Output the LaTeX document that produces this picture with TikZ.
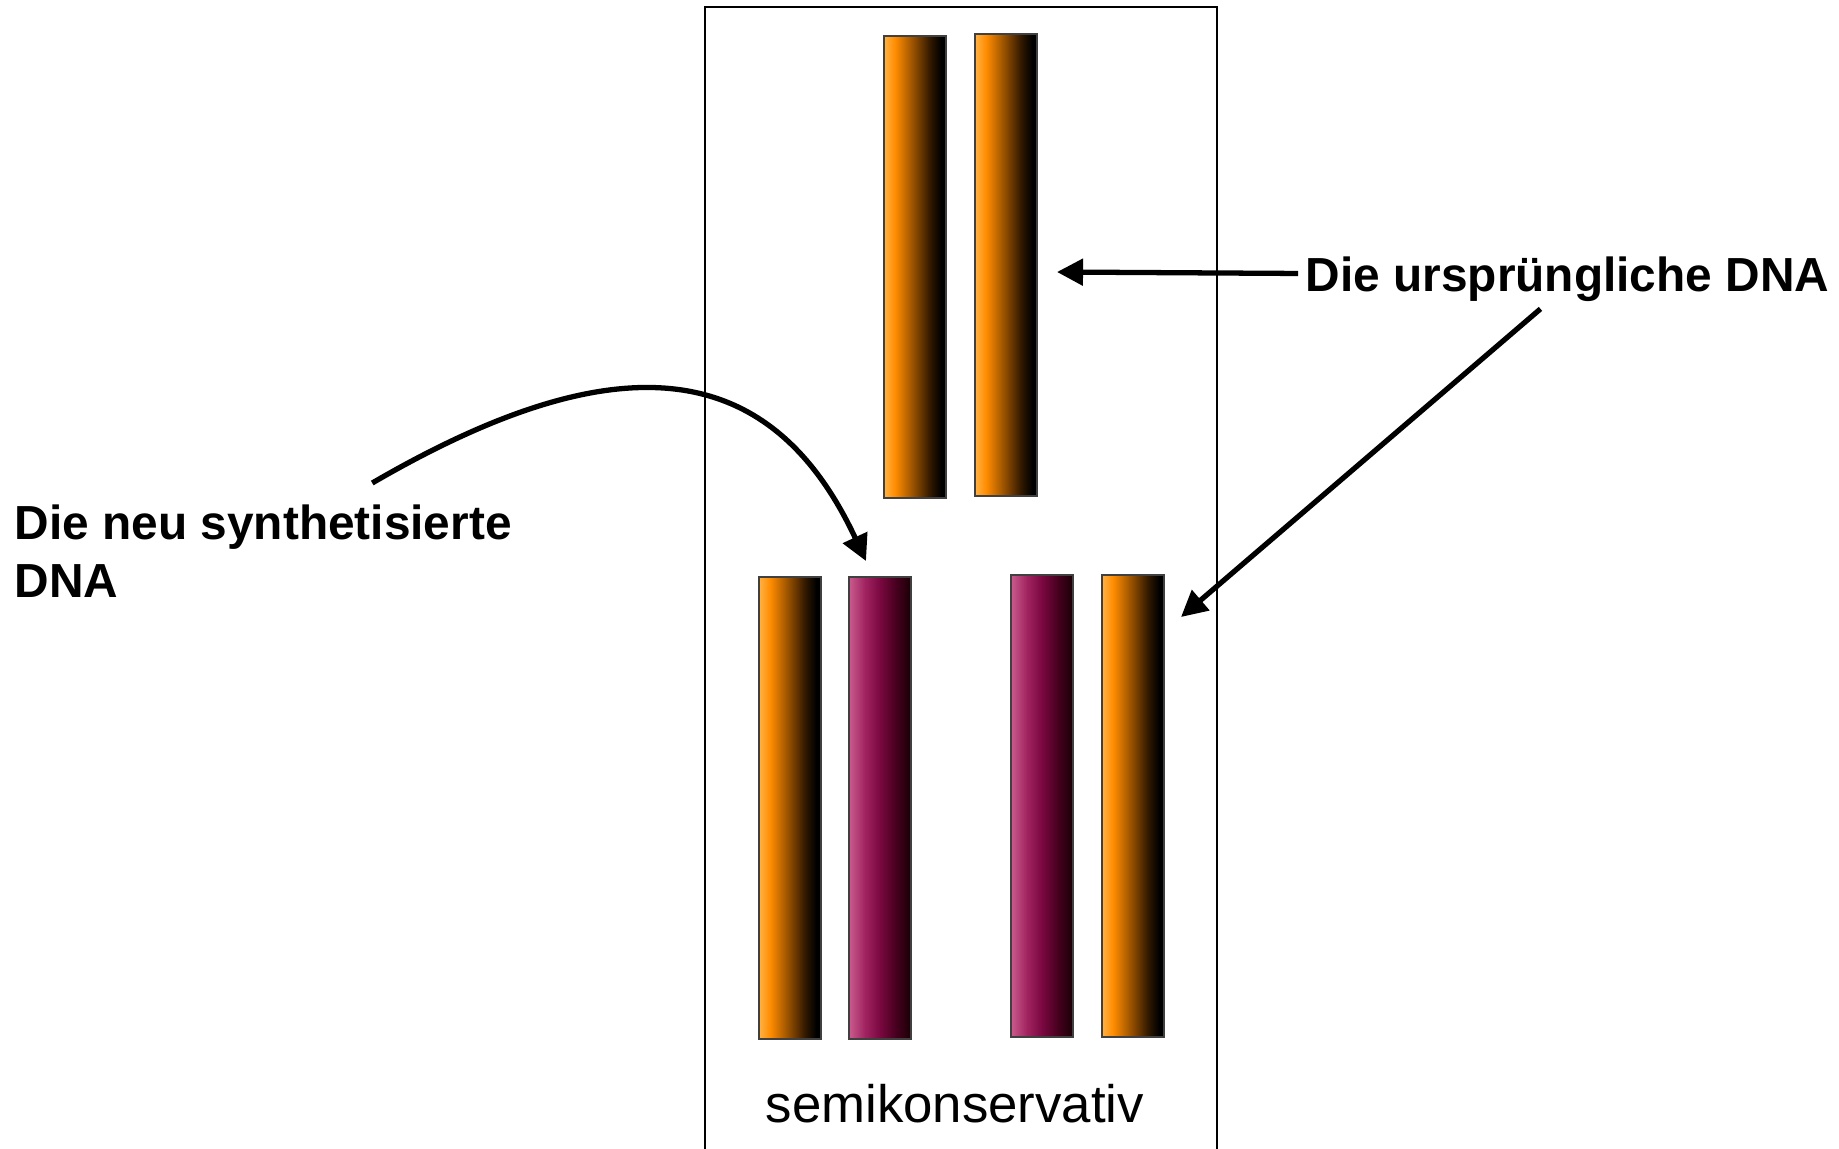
\documentclass[tikz,border=0pt]{standalone}
\usepackage{fontspec}
\setmainfont{Liberation Sans}
\usetikzlibrary{arrows.meta,positioning}

\definecolor{orLight}{RGB}{255,178,70}
\definecolor{orMid}{RGB}{255,140,0}
\definecolor{orDark}{RGB}{140,74,0}
\definecolor{orDeep}{RGB}{50,25,0}
\definecolor{mgLight}{RGB}{202,92,142}
\definecolor{mgMid}{RGB}{160,35,95}
\definecolor{mgDark}{RGB}{122,8,64}
\definecolor{mgDeep}{RGB}{70,0,30}
\definecolor{mgEnd}{RGB}{25,0,5}

\pgfdeclarehorizontalshading{orangebar}{100bp}{color(0bp)=(orLight); color(25bp)=(orLight); color(34bp)=(orMid); color(50bp)=(orDark); color(62bp)=(orDeep); color(71bp)=(black); color(100bp)=(black)}
\pgfdeclarehorizontalshading{magentabar}{100bp}{color(0bp)=(mgLight); color(25bp)=(mgLight); color(38bp)=(mgMid); color(50bp)=(mgDark); color(63bp)=(mgDeep); color(75bp)=(mgEnd); color(100bp)=(mgEnd)}

\tikzset{
  strand/.style={draw=black!75, line width=0.5pt, minimum width=0.62cm, minimum height=4.62cm, inner sep=0pt, shade},
  old/.style={strand, shading=orangebar},
  new/.style={strand, shading=magentabar},
  dnatext/.style={font=\bfseries\fontsize{13.6}{16.5}\selectfont, inner sep=2pt, align=left},
  pointer/.style={-{Triangle[length=7.4pt,width=7.4pt]}, line width=1.5pt}
}

\begin{document}
\begin{tikzpicture}[x=0.01cm,y=-0.01cm]
    \useasboundingbox (0,0) rectangle (1839,1148);
    \draw[line width=0.6pt] (705,7) rectangle (1217,1200);

    % strands
    \node[old] (top1) at (915,267) {};
    \node[old] (top2) at (1006,265) {};
    \node[old] (bot1) at (790,808) {};
    \node[new] (bot2) at (880,808) {};
    \node[new] (bot3) at (1042,806) {};
    \node[old] (bot4) at (1133,806) {};

    \node[font=\fontsize{15}{18}\selectfont, inner sep=0pt, anchor=base west] (mode) at (765,1122) {semikonservativ};

    % labels
    \node[dnatext, anchor=base west] (orig) at (1298,291) {Die ursprüngliche DNA};
    \node[dnatext, anchor=north west] (newdna) at (7,497) {Die neu synthetisierte\\DNA};

    \coordinate (origtip) at (1057,272);
    \coordinate (origtip2) at (1181,617);
    \coordinate (newtip) at (866,561);

    \draw[pointer] ([yshift=1.5pt]orig.west) -- (origtip);
    \draw[pointer] ([xshift=-0.27cm]orig.south) -- (origtip2);
    \draw[pointer] ([shift={(109,-14)}]newdna.north) .. controls (613,343) and (769,353) .. (newtip);
\end{tikzpicture}
\end{document}
